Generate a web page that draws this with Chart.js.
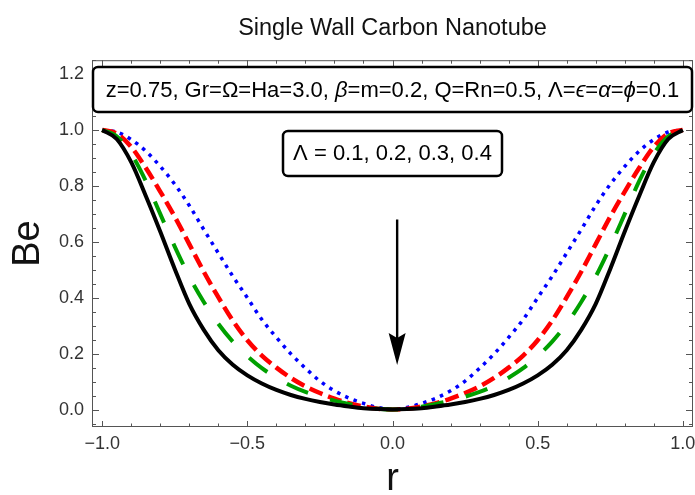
<!DOCTYPE html>
<html>
<head>
<meta charset="utf-8">
<script src="https://cdn.jsdelivr.net/npm/chart.js@4.4.1/dist/chart.umd.min.js"></script>
<style>
  html, body { margin: 0; padding: 0; background: #fff; }
</style>
</head>
<body>
<canvas id="chart" width="695" height="495"></canvas>
<script>
// r grid, -1 .. 1 step 0.05
const rValues = [-1.00, -0.95, -0.90, -0.85, -0.80, -0.75, -0.70, -0.65, -0.60, -0.55, -0.50,
  -0.45, -0.40, -0.35, -0.30, -0.25, -0.20, -0.15, -0.10, -0.05, 0.00,
  0.05, 0.10, 0.15, 0.20, 0.25, 0.30, 0.35, 0.40, 0.45, 0.50,
  0.55, 0.60, 0.65, 0.70, 0.75, 0.80, 0.85, 0.90, 0.95, 1.00];

// Be for Lambda = 0.1 (blue dotted)
const beLambda01 = [1.000, 0.993, 0.966, 0.925, 0.870, 0.806, 0.730, 0.644, 0.560, 0.477, 0.400,
  0.322, 0.258, 0.199, 0.148, 0.102, 0.067, 0.041, 0.022, 0.007, 0.000,
  0.007, 0.022, 0.041, 0.067, 0.102, 0.148, 0.199, 0.258, 0.322, 0.400,
  0.477, 0.560, 0.644, 0.730, 0.806, 0.870, 0.925, 0.966, 0.993, 1.000];

// Lambda = 0.2 (red dashed)
const beLambda02 = [1.000, 0.988, 0.940, 0.865, 0.780, 0.690, 0.592, 0.493, 0.402, 0.318, 0.248,
  0.193, 0.150, 0.113, 0.083, 0.059, 0.039, 0.023, 0.011, 0.003, 0.000,
  0.003, 0.011, 0.023, 0.039, 0.059, 0.083, 0.113, 0.150, 0.193, 0.248,
  0.318, 0.402, 0.493, 0.592, 0.690, 0.780, 0.865, 0.940, 0.988, 1.000];

// Lambda = 0.3 (green long dash)
const beLambda03 = [1.000, 0.978, 0.915, 0.818, 0.700, 0.583, 0.476, 0.385, 0.307, 0.243, 0.191,
  0.148, 0.114, 0.085, 0.063, 0.046, 0.032, 0.020, 0.010, 0.003, 0.000,
  0.003, 0.010, 0.020, 0.032, 0.046, 0.063, 0.085, 0.114, 0.148, 0.191,
  0.243, 0.307, 0.385, 0.476, 0.583, 0.700, 0.818, 0.915, 0.978, 1.000];

// Lambda = 0.4 (black solid)
const beLambda04 = [1.000, 0.968, 0.885, 0.765, 0.637, 0.503, 0.378, 0.285, 0.212, 0.160, 0.122,
  0.093, 0.070, 0.052, 0.038, 0.027, 0.018, 0.011, 0.005, 0.0015, 0.000,
  0.0015, 0.005, 0.011, 0.018, 0.027, 0.038, 0.052, 0.070, 0.093, 0.122,
  0.160, 0.212, 0.285, 0.378, 0.503, 0.637, 0.765, 0.885, 0.968, 1.000];

const xTicks = [-1, -0.5, 0, 0.5, 1];
const yTicks = [0, 0.2, 0.4, 0.6, 0.8, 1.0, 1.2];

const FONT = "'Liberation Sans', Arial, sans-serif";

function pts(arr) {
  return rValues.map((r, i) => ({ x: r, y: arr[i] }));
}

// frame with inside ticks on all four sides
const framePlugin = {
  id: 'frame',
  afterDatasetsDraw(chart) {
    const { ctx, chartArea: a, scales: { x, y } } = chart;
    ctx.save();
    ctx.strokeStyle = '#555';
    ctx.lineWidth = 1;
    ctx.strokeRect(a.left + 0.5, a.top + 0.5, a.right - a.left - 1, a.bottom - a.top - 1);
    ctx.beginPath();
    for (let i = -10; i <= 10; i++) {
      const px = Math.round(x.getPixelForValue(i / 10)) + 0.5;
      const len = i % 5 === 0 ? 6 : 3.5;
      ctx.moveTo(px, a.bottom); ctx.lineTo(px, a.bottom - len);
      ctx.moveTo(px, a.top); ctx.lineTo(px, a.top + len);
    }
    for (let i = -1; i <= 25; i++) {
      const py = Math.round(y.getPixelForValue(i * 0.05)) + 0.5;
      const len = i % 4 === 0 ? 7 : 4;
      ctx.moveTo(a.left, py); ctx.lineTo(a.left + len, py);
      ctx.moveTo(a.right, py); ctx.lineTo(a.right - len, py);
    }
    ctx.stroke();
    ctx.restore();
  }
};

// arrow and text boxes
const notesPlugin = {
  id: 'notes',
  afterDraw(chart) {
    const { ctx, chartArea: a, scales: { x, y } } = chart;
    ctx.save();

    // arrow
    const ax = x.getPixelForValue(0.016);
    const y1 = y.getPixelForValue(0.68);
    const tip = y.getPixelForValue(0.159);
    ctx.strokeStyle = '#000';
    ctx.lineWidth = 2.4;
    ctx.beginPath();
    ctx.moveTo(ax, y1); ctx.lineTo(ax, tip - 20);
    ctx.stroke();
    ctx.fillStyle = '#000';
    ctx.beginPath();
    ctx.moveTo(ax, tip);
    ctx.lineTo(ax - 8.5, tip - 32);
    ctx.lineTo(ax, tip - 27);
    ctx.lineTo(ax + 8.5, tip - 32);
    ctx.closePath();
    ctx.fill();

    function box(x0, y0, x1, y1) {
      ctx.beginPath();
      ctx.roundRect(x0, y0, x1 - x0, y1 - y0, 5);
      ctx.fillStyle = '#fff';
      ctx.fill();
      ctx.lineWidth = 2.5;
      ctx.strokeStyle = '#000';
      ctx.stroke();
    }

    // parameter box
    box(a.left + 1, 67, a.right - 1, 112);
    const runs = [
      ['z=0.75, Gr=Ω=Ha=3.0, ', false], ['β', true], ['=m=0.2, Q=Rn=0.5, Λ=', false],
      ['ϵ', true], ['=', false], ['α', true], ['=', false], ['ϕ', true], ['=0.1', false]
    ];
    const size = 22;
    let total = 0;
    runs.forEach(r => {
      ctx.font = (r[1] ? 'italic ' : '') + size + 'px ' + FONT;
      total += ctx.measureText(r[0]).width;
    });
    let tx = (a.left + a.right) / 2 - total / 2;
    ctx.fillStyle = '#000';
    ctx.textBaseline = 'middle';
    ctx.textAlign = 'left';
    runs.forEach(r => {
      ctx.font = (r[1] ? 'italic ' : '') + size + 'px ' + FONT;
      ctx.fillText(r[0], tx, 91);
      tx += ctx.measureText(r[0]).width;
    });

    // lambda box
    box(283, 131, 502, 176);
    ctx.font = '22px ' + FONT;
    ctx.fillStyle = '#000';
    ctx.textAlign = 'center';
    ctx.fillText('Λ = 0.1, 0.2, 0.3, 0.4', 392.5, 154);

    ctx.restore();
  }
};

const common = { pointRadius: 0, fill: false, cubicInterpolationMode: 'monotone', borderCapStyle: 'butt' };

new Chart(document.getElementById('chart'), {
  type: 'line',
  data: {
    datasets: [
      { ...common, label: 'Λ = 0.4', data: pts(beLambda04), borderColor: '#000', borderWidth: 4 },
      { ...common, label: 'Λ = 0.3', data: pts(beLambda03), borderColor: '#00a000', borderWidth: 4, borderDash: [23, 23] },
      { ...common, label: 'Λ = 0.2', data: pts(beLambda02), borderColor: '#ff0000', borderWidth: 4.5, borderDash: [14, 6] },
      { ...common, label: 'Λ = 0.1', data: pts(beLambda01), borderColor: '#0000ff', borderWidth: 3.5, borderDash: [3.5, 5.5] }
    ]
  },
  options: {
    responsive: false,
    animation: false,
    devicePixelRatio: 1,
    layout: { padding: { left: 0, right: 2, top: 0, bottom: 0 } },
    plugins: {
      legend: { display: false },
      tooltip: { enabled: false },
      title: {
        display: true,
        fullSize: false,
        text: 'Single Wall Carbon Nanotube',
        color: '#111',
        font: { family: FONT, size: 23.5, weight: 'normal' },
        padding: { top: 14, bottom: 18 }
      }
    },
    scales: {
      x: {
        type: 'linear',
        min: -1.035,
        max: 1.035,
        afterBuildTicks: s => { s.ticks = xTicks.map(v => ({ value: v })); },
        afterFit: s => { s.height = 68; s.paddingLeft = 0; s.paddingRight = 0; },
        grid: { display: false, drawTicks: false },
        border: { display: false },
        ticks: {
          color: '#333',
          padding: 6,
          maxRotation: 0,
          font: { family: FONT, size: 18 },
          callback: v => (v < 0 ? '−' : '') + Math.abs(v).toFixed(1)
        },
        title: { display: true, text: 'r', color: '#111', font: { family: FONT, size: 38, lineHeight: 0.8 }, padding: 0 }
      },
      y: {
        min: -0.0625,
        max: 1.25,
        afterBuildTicks: s => { s.ticks = yTicks.map(v => ({ value: v })); },
        afterFit: s => { s.width = 92; s.paddingTop = 0; s.paddingBottom = 0; },
        grid: { display: false, drawTicks: false },
        border: { display: false },
        ticks: {
          color: '#333',
          padding: 8,
          font: { family: FONT, size: 18 },
          callback: v => v.toFixed(1)
        },
        title: { display: true, text: 'Be', color: '#111', font: { family: FONT, size: 38, lineHeight: 0.8 }, padding: { top: 13, bottom: 0 } }
      }
    }
  },
  plugins: [framePlugin, notesPlugin]
});
</script>
</body>
</html>
